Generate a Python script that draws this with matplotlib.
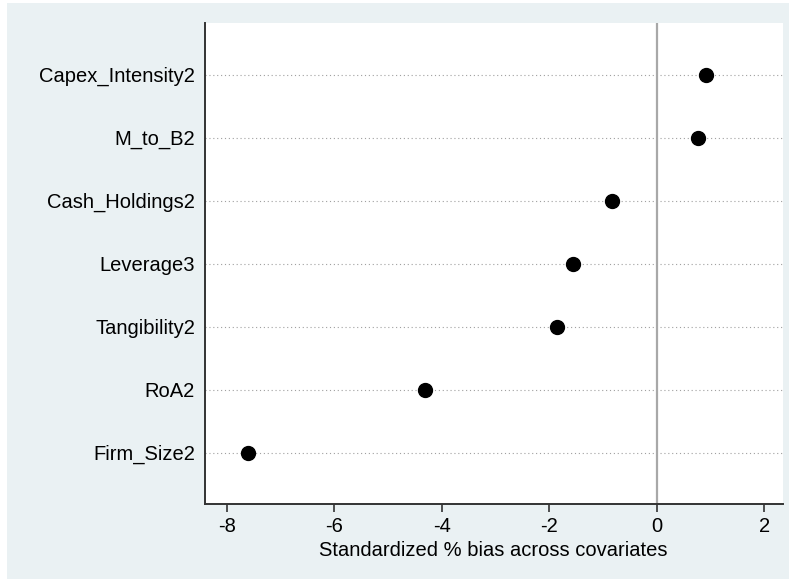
import matplotlib
matplotlib.use("Agg")
from matplotlib import pyplot as plt
from matplotlib.patches import Rectangle

plt.rcParams['font.family'] = ['Liberation Sans', 'DejaVu Sans']

covariates = ["Capex_Intensity2", "M_to_B2", "Cash_Holdings2", "Leverage3",
              "Tangibility2", "RoA2", "Firm_Size2"]
bias = [0.91, 0.76, -0.84, -1.56, -1.85, -4.31, -7.61]
xticks = [-8, -6, -4, -2, 0, 2]

bg = "#eaf1f3"

fig = plt.figure(figsize=(7.92, 5.79), dpi=100)
fig.patch.set_facecolor("white")
# light grey-blue graph region with thin white margin
fig.patches.append(Rectangle((7/792, 0), (789-7)/792, (576)/579,
                             transform=fig.transFigure, facecolor=bg,
                             edgecolor="none", zorder=-10))

ax = fig.add_axes([204.7/792, 1-504.3/579, (782.7-204.7)/792, (504.3-23)/579])
ax.set_facecolor("white")

ypos = list(range(len(covariates), 0, -1))
for y in ypos:
    ax.axhline(y, color="#a0a0a0", lw=0.8, ls=(0, (1, 2.5)), zorder=1)
ax.axvline(0, color="#a8a8a8", lw=1.6, zorder=2)
ax.plot(bias, ypos, "o", color="black", ms=10, zorder=3)

ax.set_xlim(-8.41, 2.34)
ax.set_ylim(0.18, 7.82)
ax.set_yticks(ypos)
ax.set_yticklabels(covariates, fontsize=14.5)
ax.set_xticks(xticks)
ax.set_xticklabels([str(t) for t in xticks], fontsize=14.5)
ax.tick_params(axis="y", length=0, pad=7)
ax.tick_params(axis="x", length=6, width=1.2, color="#333333", pad=3)
ax.set_xlabel("Standardized % bias across covariates", fontsize=14.5, labelpad=4)

for s in ["top", "right"]:
    ax.spines[s].set_visible(False)
for s in ["left", "bottom"]:
    ax.spines[s].set_color("#333333")
    ax.spines[s].set_linewidth(1.4)

fig.savefig("out.png", dpi=100, facecolor=fig.get_facecolor())
